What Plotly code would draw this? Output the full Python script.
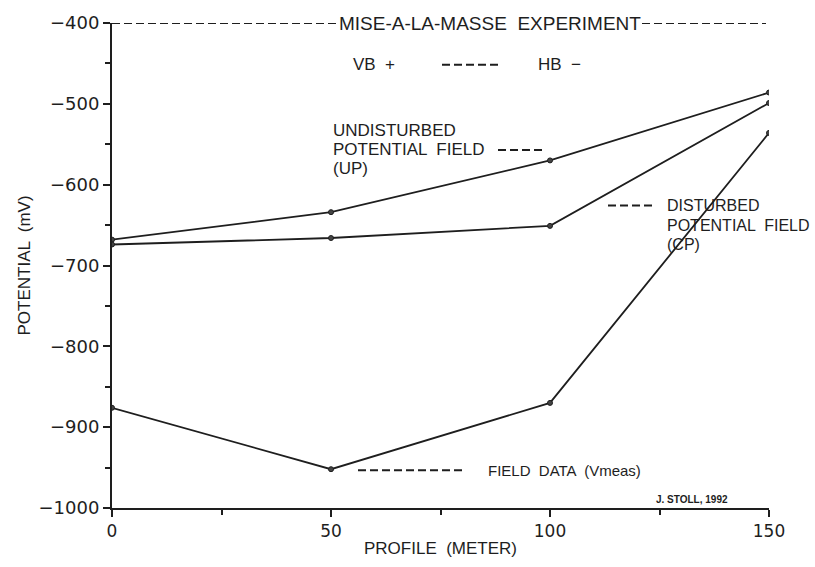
import plotly.graph_objects as go

profile = [0, 50, 100, 150]
up_values = [-668, -634, -570, -486]       # undisturbed potential field (UP)
cp_values = [-674, -666, -651, -499]       # disturbed potential field (CP)
field_values = [-876, -952, -870, -536]    # field data (Vmeas)

y_ticks = [-1000, -900, -800, -700, -600, -500, -400]
x_ticks = [0, 50, 100, 150]

FONT = "Liberation Sans, Arial, sans-serif"
TICKFONT = "DejaVu Sans, sans-serif"
INK = "#1e1e1e"

fig = go.Figure()
for vals in (up_values, cp_values, field_values):
    fig.add_trace(go.Scatter(
        x=profile, y=vals, mode="lines+markers",
        line=dict(color=INK, width=1.8),
        marker=dict(size=5, color="#444", line=dict(color=INK, width=1)),
        showlegend=False, hoverinfo="skip"))

def px_x(p):
    return (p - 112) / 657 * 150

def px_y(p):
    return -400 - (p - 19) / 0.815

DASH = "8px,4px"
# dashed segments (pixel-placed decorations)
dash_segments = [
    (112, 338, 19), (642, 766, 19),     # title row
    (442, 500, 61),                     # between VB + and HB -
    (498, 542, 147),                    # UP
    (608, 652, 203),                    # CP
    (358, 463, 470),                    # field data
]
for x0, x1, yy in dash_segments:
    fig.add_shape(type="line", xref="x", yref="y", x0=px_x(x0), x1=px_x(x1),
                  y0=px_y(yy), y1=px_y(yy), line=dict(color=INK, width=2, dash=DASH))

anns = [
    (490, 19, "MISE-A-LA-MASSE  EXPERIMENT", "center", 19, False),
    (352, 61, "VB  +", "left", 17, False),
    (537, 61, "HB  −", "left", 17, False),
    (332, 127, "UNDISTURBED", "left", 17, False),
    (332, 147, "POTENTIAL  FIELD", "left", 17, False),
    (332, 166, "(UP)", "left", 17, False),
    (666, 203, "DISTURBED", "left", 16, False),
    (666, 223, "POTENTIAL  FIELD", "left", 16, False),
    (666, 242, "(CP)", "left", 16, False),
    (487, 470, "FIELD  DATA  (Vmeas)", "left", 15, False),
    (655, 499, "J. STOLL, 1992", "left", 10, True),
]
for xp, yp, text, xa, size, bold in anns:
    fig.add_annotation(x=px_x(xp), y=px_y(yp), text=f"<b>{text}</b>" if bold else text,
                       xref="x", yref="y", xanchor=xa, yanchor="middle", showarrow=False,
                       font=dict(family=FONT, size=size, color=INK), borderpad=0)

fig.update_xaxes(range=[0, 150], tickvals=x_ticks, ticktext=[str(v) for v in x_ticks],
                 showgrid=False, zeroline=False, showline=True, linecolor=INK, linewidth=2,
                 ticks="outside", ticklen=7, tickwidth=1.5, tickcolor=INK,
                 minor=dict(ticks="outside", ticklen=5, tickwidth=1.5, tickcolor=INK, dtick=25, tick0=0),
                 tickfont=dict(family=TICKFONT, size=17, color=INK),
                 title=dict(text="PROFILE  (METER)", font=dict(family=FONT, size=17, color=INK), standoff=2))
fig.update_yaxes(range=[-1000, -400], tickvals=y_ticks,
                 showgrid=False, zeroline=False, showline=True, linecolor=INK, linewidth=2,
                 ticks="outside", ticklen=7, tickwidth=1.5, tickcolor=INK,
                 minor=dict(ticks="outside", ticklen=5, tickwidth=1.5, tickcolor=INK, dtick=50, tick0=-1000),
                 tickfont=dict(family=TICKFONT, size=18, color=INK),
                 title=dict(text="POTENTIAL  (mV)", font=dict(family=FONT, size=17, color=INK), standoff=4))

fig.update_layout(width=815, height=567, autosize=False,
                  margin=dict(l=112, r=46, t=19, b=59),
                  plot_bgcolor="white", paper_bgcolor="white")

fig.write_html("out.html")
